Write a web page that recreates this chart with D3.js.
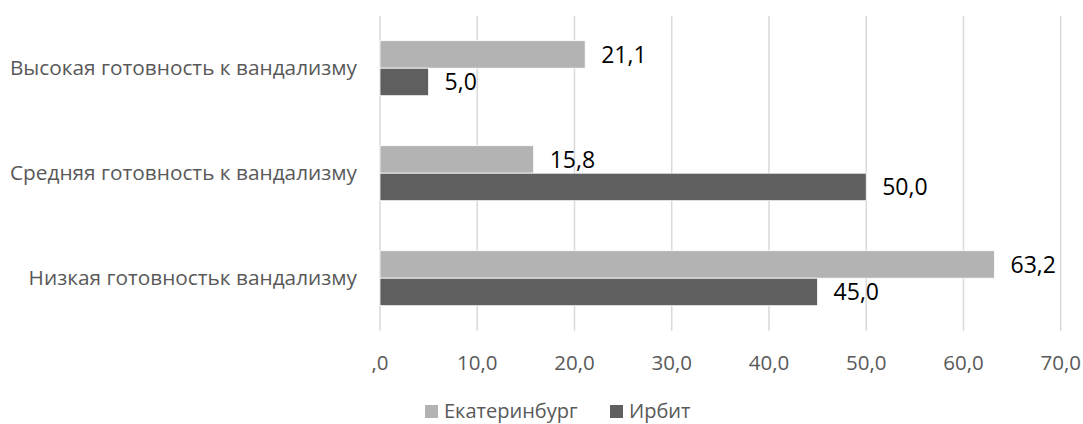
<!DOCTYPE html>
<html>
<head>
<meta charset="utf-8">
<script src="https://cdn.jsdelivr.net/npm/d3@7"></script>
<style>
	body { margin: 0; background: #fff; }
	svg { display: block; }
</style>
</head>
<body>
<script>
// data
const categories = ["Высокая готовность к вандализму", "Средняя готовность к вандализму", "Низкая готовностьк вандализму"];
const seriesNames = ["Екатеринбург", "Ирбит"];
const ekaterinburg = [21.1, 15.8, 63.2];
const irbit = [5.0, 50.0, 45.0];
const ticks = [0, 10, 20, 30, 40, 50, 60, 70];
const colors = ["#b3b3b3", "#5f5f5f"];

const width = 1083;
const height = 424;
const font = "'Open Sans', sans-serif";

const svg = d3.select("body").append("svg")
	.attr("width", width)
	.attr("height", height);

// scales
const x = d3.scaleLinear().domain([0, 70]).range([380, 1060.7]);
const y = d3.scaleBand().domain(categories).range([15.7, 330.7]).paddingInner(50 / 105).paddingOuter(25 / 105);
const ySub = d3.scaleBand().domain(seriesNames).range([0, y.bandwidth()]);

const fmt = v => v === 0 ? ",0" : d3.format(".1f")(v).replace(".", ",");

// gridlines
svg.append("g").selectAll("line")
	.data(ticks)
	.join("line")
	.attr("x1", d => x(d)).attr("x2", d => x(d))
	.attr("y1", 15.7).attr("y2", 330.7)
	.attr("stroke", "#d9d9d9")
	.attr("stroke-width", 1.5);

// tick labels
svg.append("g").selectAll("text")
	.data(ticks)
	.join("text")
	.attr("x", d => x(d))
	.attr("y", 363)
	.attr("dy", "0.35em")
	.attr("text-anchor", "middle")
	.style("font", `20.5px ${font}`)
	.attr("fill", "#595959")
	.text(d => fmt(d));

// bars
const rows = categories.map((c, i) => ({cat: c, vals: [ekaterinburg[i], irbit[i]]}));
const grp = svg.append("g").selectAll("g")
	.data(rows)
	.join("g")
	.attr("transform", d => `translate(0,${y(d.cat)})`);

grp.selectAll("rect")
	.data(d => d.vals.map((v, j) => ({name: seriesNames[j], v, j})))
	.join("rect")
	.attr("x", x(0))
	.attr("y", d => ySub(d.name))
	.attr("width", d => x(d.v) - x(0))
	.attr("height", ySub.bandwidth())
	.attr("fill", d => colors[d.j])
	.attr("stroke", "#ffffff")
	.attr("stroke-width", 0.8);

grp.selectAll("text")
	.data(d => d.vals.map((v, j) => ({name: seriesNames[j], v, j})))
	.join("text")
	.attr("x", d => x(d.v) + 16)
	.attr("y", d => ySub(d.name) + ySub.bandwidth() / 2)
	.attr("dy", "0.35em")
	.style("font", `23px ${font}`)
	.attr("fill", "#000")
	.text(d => fmt(d.v));

// category labels
svg.append("g").selectAll("text")
	.data(categories)
	.join("text")
	.attr("x", 357)
	.attr("y", d => y(d) + y.bandwidth() / 2)
	.attr("dy", "0.35em")
	.attr("text-anchor", "end")
	.style("font", `20.8px ${font}`)
	.attr("fill", "#595959")
	.text(d => d);

// legend
const legend = svg.append("g");
const legendX = [425, 610];
seriesNames.forEach((n, i) => {
	legend.append("rect")
		.attr("x", legendX[i]).attr("y", 405)
		.attr("width", 13).attr("height", 13)
		.attr("fill", colors[i]);
	legend.append("text")
		.attr("x", legendX[i] + 19).attr("y", 411)
		.attr("dy", "0.35em")
		.style("font", `20px ${font}`)
		.attr("fill", "#595959")
		.text(n);
});
</script>
</body>
</html>
